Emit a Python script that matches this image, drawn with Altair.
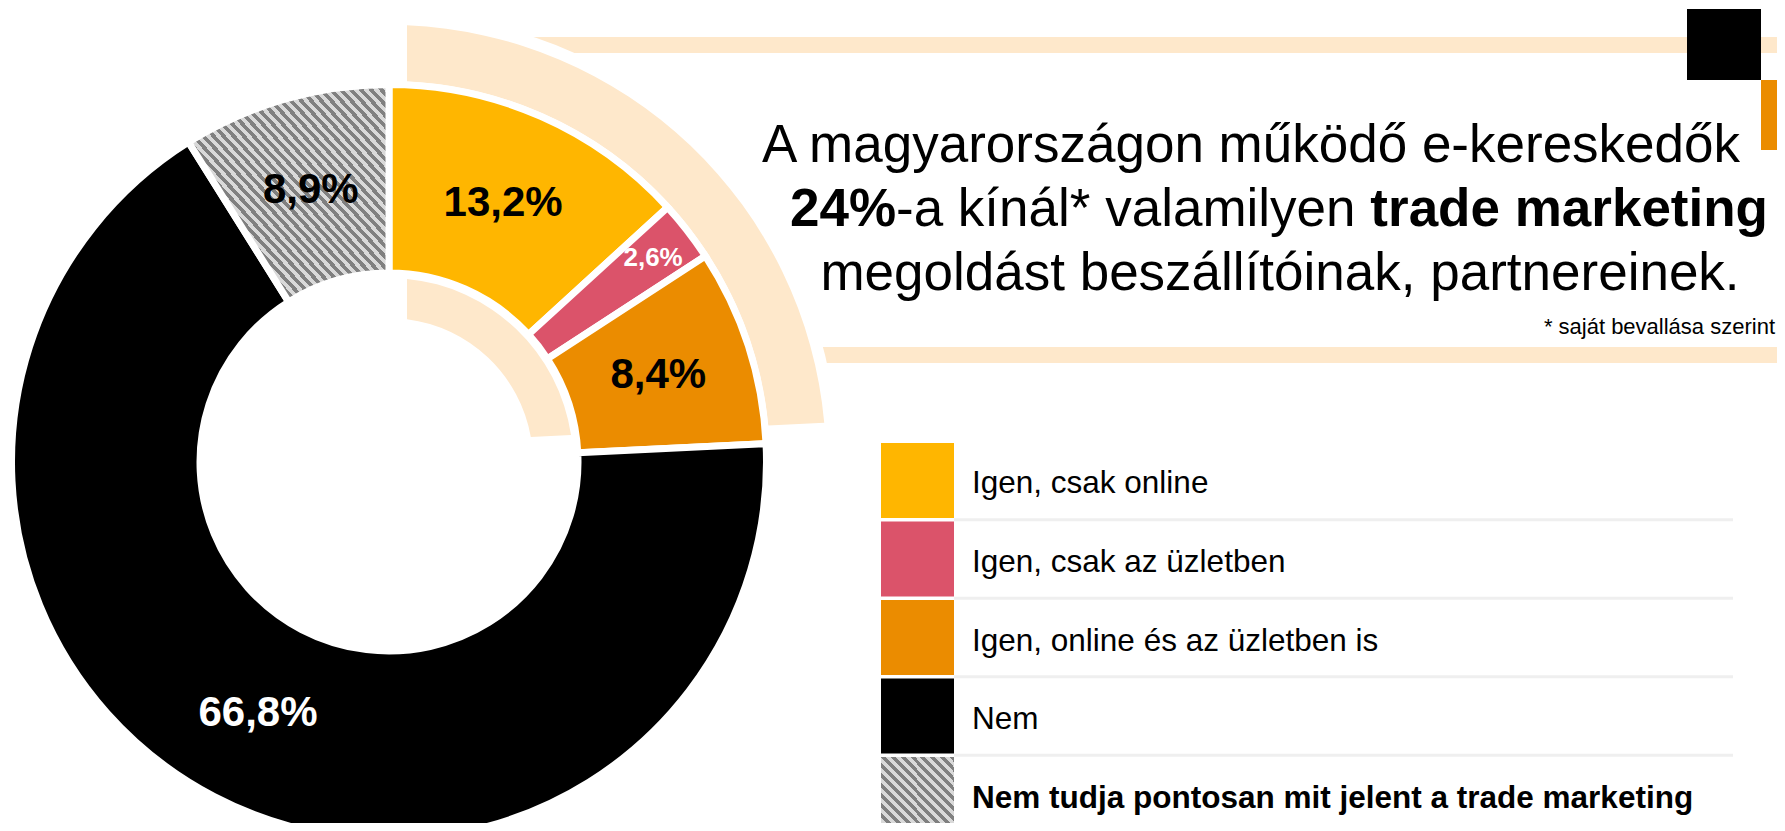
import math
import altair as alt
import pandas as pd

# ---------------- data ----------------
categories = [
    "Igen, csak online",
    "Igen, csak az üzletben",
    "Igen, online és az üzletben is",
    "Nem",
    "Nem tudja pontosan mit jelent a trade marketing",
]
values = [13.2, 2.6, 8.4, 66.8, 8.9]
value_labels = ["13,2%", "2,6%", "8,4%", "66,8%", "8,9%"]
palette = ["#FFB600", "#DB536A", "#EB8C00", "#000000", "#D9D9D9"]

title_line1 = "A magyarországon működő e-kereskedők"
title_line2 = ["24%", "-a kínál* valamilyen ", "trade marketing"]
title_line3 = "megoldást beszállítóinak, partnereinek."
footnote = "* saját bevallása szerint"

df = pd.DataFrame({"cat": categories, "value": values, "label": value_labels,
                   "idx": list(range(len(categories)))})
one = pd.DataFrame({"k": [0]})

# ---------------- styling constants ----------------
FONT = "Liberation Sans"
OFF = 8
CX, CY = 389 - OFF, 462 - OFF
BEIGE = "#FEE8CB"
HATCH_LIGHT, HATCH_DARK = "#D9D9D9", "#808080"

yes_share = sum(values[:3]) / sum(values)
yes_end = 2 * math.pi * yes_share


def stripes(n):
    stops = []
    for k in range(n):
        a, m, b = k / n, (k + 0.5) / n, (k + 1) / n
        stops += [
            {"offset": round(a, 5), "color": HATCH_LIGHT},
            {"offset": round(m, 5), "color": HATCH_LIGHT},
            {"offset": round(m, 5), "color": HATCH_DARK},
            {"offset": round(b, 5), "color": HATCH_DARK},
        ]
    return {"gradient": "linear", "x1": 0, "y1": 1, "x2": 1, "y2": 0, "stops": stops}


hatch_big = stripes(40)
hatch_small = stripes(15)
is_hatch = alt.datum.cat == categories[4]

color_scale = alt.Scale(domain=categories, range=palette)

# ---------------- decorations ----------------
def rect(x1, x2, y1, y2, color):
    return alt.Chart(one).mark_rect(color=color).encode(
        x=alt.value(x1 - OFF), x2=alt.value(x2 - OFF),
        y=alt.value(y1 - OFF), y2=alt.value(y2 - OFF))

band_top = rect(450, 1800, 37, 53, BEIGE)
band_low = rect(760, 1800, 347, 363, BEIGE)
black_sq = rect(1687, 1761, 9, 80, "#000000")
orange_sq = rect(1761, 1800, 80, 150, "#EB8C00")

halo = alt.Chart(one).mark_arc(
    theta=0, theta2=yes_end, innerRadius=370, outerRadius=449, color="white"
).encode(x=alt.value(CX), y=alt.value(CY))

beige_outer = alt.Chart(one).mark_arc(
    theta=0, theta2=yes_end, innerRadius=381, outerRadius=437,
    padAngle=0.0621, color=BEIGE
).encode(x=alt.value(CX), y=alt.value(CY))

beige_inner = alt.Chart(one).mark_arc(
    theta=0, theta2=yes_end, innerRadius=144, outerRadius=184,
    padAngle=0.1543, color=BEIGE
).encode(x=alt.value(CX), y=alt.value(CY))

# ---------------- donut ----------------
base = alt.Chart(df)
donut = base.mark_arc(
    innerRadius=189, outerRadius=377.5, stroke="white", strokeWidth=7
).encode(
    theta=alt.Theta("value:Q", stack=True),
    order=alt.Order("idx:Q"),
    detail="cat:N",
    color=alt.condition(is_hatch, alt.value(hatch_big),
                        alt.Color("cat:N", scale=color_scale, legend=None)),
    x=alt.value(CX), y=alt.value(CY),
)

labels = base.mark_text(
    font=FONT, fontWeight="bold", baseline="middle", align="center",
    radius=alt.ExprRef(expr=f"datum.cat === '{categories[1]}' ? 334 : 283"),
).encode(
    theta=alt.Theta("value:Q", stack=True),
    order=alt.Order("idx:Q"),
    detail="cat:N",
    text="label:N",
    color=alt.condition((alt.datum.cat == categories[1]) | (alt.datum.cat == categories[3]),
                        alt.value("white"), alt.value("black")),
    size=alt.condition(alt.datum.cat == categories[1], alt.value(26), alt.value(42)),
    x=alt.value(CX), y=alt.value(CY),
)

# ---------------- title ----------------
def txt(s, x, y, size, weight="normal", align="center"):
    return alt.Chart(one).mark_text(
        text=s, font=FONT, fontSize=size, fontWeight=weight, align=align,
        baseline="alphabetic", color="black"
    ).encode(x=alt.value(x - OFF), y=alt.value(y - OFF))

TS = 53
t1 = txt(title_line1, 1251, 162, TS)
t2a = txt(title_line2[0], 790, 226, TS, "bold", "left")
t2b = txt(title_line2[1], 896, 226, TS, "normal", "left")
t2c = txt(title_line2[2], 1768, 226, TS, "bold", "right")
t3 = txt(title_line3, 1280, 290, TS)
tf = txt(footnote, 1775, 334, 22, "normal", "right")

# ---------------- legend ----------------
y_scale = alt.Scale(domain=categories, range=[443 - OFF, 832 - OFF],
                    paddingInner=0.045, paddingOuter=0)
leg = alt.Chart(df)
leg_rect = leg.mark_rect().encode(
    y=alt.Y("cat:N", scale=y_scale, axis=None),
    x=alt.value(881 - OFF), x2=alt.value(954 - OFF),
    color=alt.condition(is_hatch, alt.value(hatch_small),
                        alt.Color("cat:N", scale=color_scale, legend=None)),
)
leg_rule = leg.mark_rule(color="#EFEFEF", strokeWidth=3, yOffset=1.75).encode(
    y=alt.Y("cat:N", scale=y_scale, axis=None, bandPosition=1),
    x=alt.value(954 - OFF), x2=alt.value(1733 - OFF),
)
leg_text = leg.transform_filter(~is_hatch).mark_text(
    font=FONT, fontSize=31.5, align="left", baseline="alphabetic", dy=13, color="black"
).encode(
    y=alt.Y("cat:N", scale=y_scale, axis=None, bandPosition=0.5),
    x=alt.value(972 - OFF), text="cat:N",
)
leg_text_b = leg.transform_filter(is_hatch).mark_text(
    font=FONT, fontSize=31.5, fontWeight="bold", align="left", baseline="alphabetic",
    dy=13, color="black"
).encode(
    y=alt.Y("cat:N", scale=y_scale, axis=None, bandPosition=0.5),
    x=alt.value(972 - OFF), text="cat:N",
)

chart = alt.layer(
    band_top, band_low, black_sq, orange_sq,
    halo, beige_outer, beige_inner,
    donut, labels,
    t1, t2a, t2b, t2c, t3, tf,
    leg_rule, leg_rect, leg_text, leg_text_b,
).properties(
    width=1769, height=815, autosize="none", padding=0
).configure_view(stroke=None)

chart.save("out.html", embed_options={"renderer": "svg", "actions": False})
